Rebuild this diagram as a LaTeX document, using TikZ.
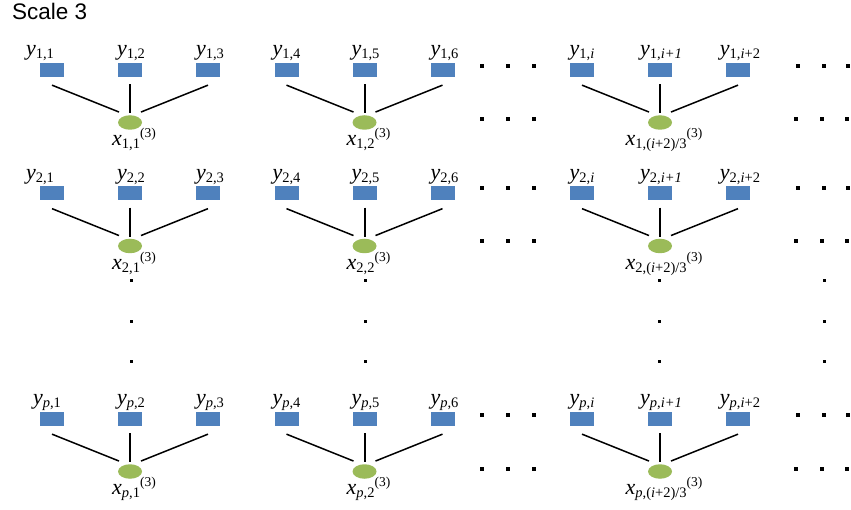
\documentclass[tikz,border=0pt]{standalone}
\usepackage{fontspec}
\setmainfont{Liberation Serif}
\newfontfamily\titlesans{Liberation Sans}
\usetikzlibrary{shapes.geometric, positioning}
\definecolor{boxblue}{HTML}{4F81BD}
\definecolor{nodegreen}{HTML}{9BBB59}
\newcommand{\subtxt}[1]{\raisebox{-3pt}{\fontsize{14.5}{14.5}\selectfont #1}}
\newcommand{\suptxt}[1]{\raisebox{8pt}{\fontsize{13.5}{13.5}\selectfont #1}}
\newcommand{\ylab}[1]{\textit{y}\subtxt{#1}}
\newcommand{\xlab}[1]{\textit{x}\subtxt{#1}\suptxt{(3)}}
\tikzset{
x=1pt, y=-1pt, % pixel units, y runs downwards
ybox/.style={rectangle, fill=boxblue, draw=white, line width=0.3pt, minimum width=25pt, minimum height=15pt, inner sep=0pt}, % observed variables
xnode/.style={ellipse, fill=nodegreen, minimum width=24pt, minimum height=14.5pt, inner sep=0pt}, % scale-3 variables
ylabel/.style={anchor=base, inner sep=0pt, font=\fontsize{22}{22}\selectfont},
xlabel/.style={anchor=base, inner sep=0pt, font=\fontsize{22}{22}\selectfont},
link/.style={line width=1.5pt},
hdot/.style={rectangle, fill=black, minimum size=4pt, inner sep=0pt},
vdot/.style={rectangle, fill=black, minimum size=3pt, inner sep=0pt},
}

\begin{document}
\begin{tikzpicture}
        \useasboundingbox (0,0) rectangle (851,510);
        \node[anchor=base west, inner sep=0pt, font=\titlesans\fontsize{22.5}{23}\selectfont] (title) at (12,20) {Scale 3};

        % one tree per row and group
        \foreach \r/\ry/\rn/\sh in {1/69.5/1/-12, 2/193/2/-12, 3/418.5/\textit{p}/-5} {
          \foreach \g/\gx/\f/\la/\lb/\lc/\lx in {1/130/1/1/2/3/1, 2/364.5/0/4/5/6/2, 3/660/0/\textit{i}/\textit{i+1}/{\textit{i}+2}/{(\textit{i}+2)/3}} {
            \node[ybox] (y\r\g1) at ({\gx-78},\ry) {};
            \node[ybox] (y\r\g2) at (\gx,\ry) {};
            \node[ybox] (y\r\g3) at ({\gx+78},\ry) {};
            \node[xnode] (x\r\g) at (\gx,{\ry+53}) {};
            \node[ylabel] (ly\r\g1) at ([xshift={\f*(\sh)},yshift=6pt]y\r\g1.north) {\ylab{\rn,\la}};
            \node[ylabel] (ly\r\g2) at ([xshift=1pt,yshift=6pt]y\r\g2.north) {\ylab{\rn,\lb}};
            \node[ylabel] (ly\r\g3) at ([xshift=2pt,yshift=6pt]y\r\g3.north) {\ylab{\rn,\lc}};
            \node[xlabel] (lx\r\g) at ([xshift=4pt,yshift=-16pt]x\r\g.south) {\xlab{\rn,\lx}};
            \draw[link] ([yshift=-8pt]y\r\g1.south) -- ([xshift=-11pt,yshift=3pt]x\r\g.north);
            \draw[link, line width=2pt] ([yshift=-7pt]y\r\g2.south) -- ([yshift=2pt]x\r\g.north);
            \draw[link] ([yshift=-8pt]y\r\g3.south) -- ([xshift=11pt,yshift=3pt]x\r\g.north);
          }
        }

        % horizontal ellipses
        \foreach \r/\yb/\ye in {1/66.5/119.5, 2/188.3/241, 3/415/468.5} {
          \foreach \i/\xm/\xu/\xl in {1/482/798/796, 2/508/824/822, 3/534/848/847} {
            \node[hdot] (hm\r\i) at (\xm,\yb) {};
            \node[hdot] (hn\r\i) at (\xm,\ye) {};
            \node[hdot] (hu\r\i) at (\xu,\yb) {};
            \node[hdot] (hl\r\i) at (\xl,\ye) {};
          }
        }

        % vertical ellipses
        \foreach \c/\xc in {1/131, 2/365, 3/659, 4/824} {
          \foreach \i/\yc in {1/281, 2/321.5, 3/361.5} {
            \node[vdot] (v\c\i) at (\xc,\yc) {};
          }
        }
\end{tikzpicture}
\end{document}
